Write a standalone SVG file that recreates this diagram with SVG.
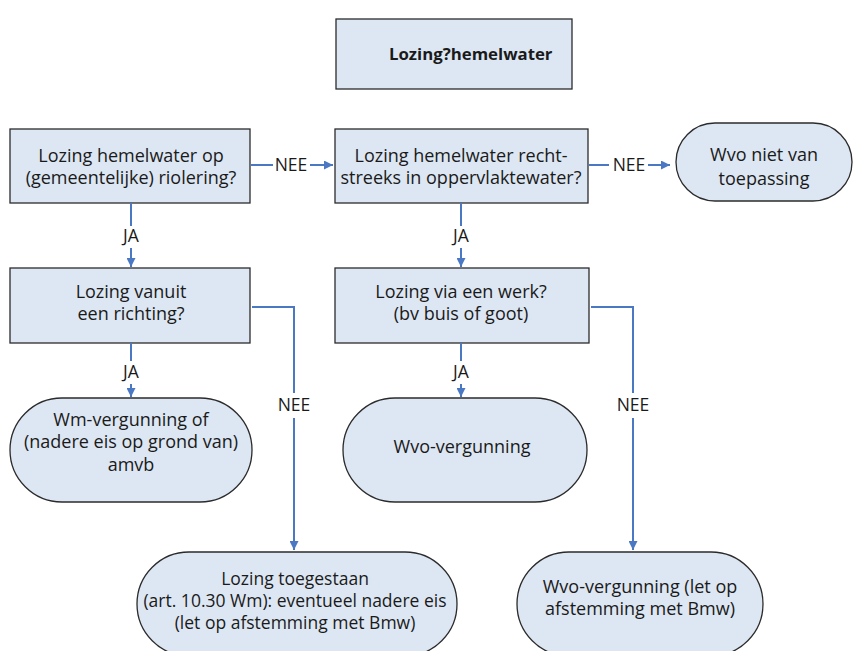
<svg xmlns="http://www.w3.org/2000/svg" width="854" height="651" viewBox="0 0 854 651">
  <style>
    .box { fill: #dde7f3; stroke: #2b2b2b; stroke-width: 1.3; }
    .txt { font-family: "Open Sans", "Liberation Sans", sans-serif; font-size: 18px; fill: #1a1a1a; text-anchor: middle; }
    .small { font-size: 17.5px; }
    .title { font-family: "Open Sans", "Liberation Sans", sans-serif; font-size: 16.8px; font-weight: bold; fill: #1a1a1a; }
    .lbl { font-family: "Open Sans", "Liberation Sans", sans-serif; font-size: 17.5px; fill: #1a1a1a; text-anchor: middle; }
    .con { fill: none; stroke: #4a78c2; stroke-width: 2; }
  </style>
  <defs>
    <marker id="arrow" viewBox="0 0 10 10" refX="10" refY="5" markerWidth="4.5" markerHeight="4.5" orient="auto" markerUnits="strokeWidth">
      <path d="M0,0 L10,5 L0,10 Z" fill="#4a78c2"/>
    </marker>
  </defs>

  <g id="title">
    <rect class="box" x="336" y="19" width="236" height="70"/>
    <text class="title" x="389" y="60">Lozing?hemelwater</text>
  </g>

  <g id="q-riolering">
    <rect class="box" x="10" y="129" width="240" height="74"/>
    <text class="txt" x="131" y="162">Lozing hemelwater op</text>
    <text class="txt" x="131" y="184">(gemeentelijke) riolering?</text>
  </g>

  <g id="q-oppervlaktewater">
    <rect class="box" x="335" y="129" width="253" height="74"/>
    <text class="txt" x="461" y="162">Lozing hemelwater recht-</text>
    <text class="txt" x="461" y="184">streeks in oppervlaktewater?</text>
  </g>

  <g id="t-niet-van-toepassing">
    <rect class="box" x="676" y="123" width="176" height="78" rx="39" ry="39"/>
    <text class="txt" x="764" y="161">Wvo niet van</text>
    <text class="txt" x="764" y="185">toepassing</text>
  </g>

  <g id="q-inrichting">
    <rect class="box" x="10" y="268" width="240" height="75"/>
    <text class="txt" x="131" y="298">Lozing vanuit</text>
    <text class="txt" x="131" y="320">een richting?</text>
  </g>

  <g id="q-werk">
    <rect class="box" x="335" y="268" width="254" height="75"/>
    <text class="txt" x="461" y="298">Lozing via een werk?</text>
    <text class="txt" x="461" y="320">(bv buis of goot)</text>
  </g>

  <g id="t-wm-vergunning">
    <rect class="box" x="10" y="398" width="242" height="104" rx="52" ry="52"/>
    <text class="txt" x="131" y="426">Wm-vergunning of</text>
    <text class="txt" x="131" y="448">(nadere eis op grond van)</text>
    <text class="txt" x="131" y="471">amvb</text>
  </g>

  <g id="t-wvo-vergunning">
    <rect class="box" x="343" y="398" width="244" height="104" rx="52" ry="52"/>
    <text class="txt" x="462" y="453">Wvo-vergunning</text>
  </g>

  <g id="t-lozing-toegestaan">
    <rect class="box" x="137" y="552" width="320" height="104" rx="52" ry="52"/>
    <text class="txt small" x="295" y="585">Lozing toegestaan</text>
    <text class="txt small" x="295" y="607">(art. 10.30 Wm): eventueel nadere eis</text>
    <text class="txt small" x="295" y="629">(let op afstemming met Bmw)</text>
  </g>

  <g id="t-wvo-vergunning-bmw">
    <rect class="box" x="517" y="552" width="246" height="104" rx="52" ry="52"/>
    <text class="txt" x="640" y="593">Wvo-vergunning (let op</text>
    <text class="txt" x="640" y="615">afstemming met Bmw)</text>
  </g>

  <g id="connectors">
    <!-- riolering -> oppervlaktewater (NEE) -->
    <line class="con" x1="251" y1="165" x2="273" y2="165"/>
    <line class="con" x1="310" y1="165" x2="333" y2="165" marker-end="url(#arrow)"/>
    <text class="lbl" x="291" y="171">NEE</text>

    <!-- oppervlaktewater -> niet van toepassing (NEE) -->
    <line class="con" x1="589" y1="165" x2="609" y2="165"/>
    <line class="con" x1="648" y1="165" x2="670" y2="165" marker-end="url(#arrow)"/>
    <text class="lbl" x="629" y="171">NEE</text>

    <!-- riolering -> inrichting (JA) -->
    <line class="con" x1="131" y1="203" x2="131" y2="226"/>
    <line class="con" x1="131" y1="248" x2="131" y2="267" marker-end="url(#arrow)"/>
    <text class="lbl" x="131" y="242">JA</text>

    <!-- oppervlaktewater -> werk (JA) -->
    <line class="con" x1="461" y1="203" x2="461" y2="226"/>
    <line class="con" x1="461" y1="248" x2="461" y2="267" marker-end="url(#arrow)"/>
    <text class="lbl" x="461" y="242">JA</text>

    <!-- inrichting -> Wm-vergunning (JA) -->
    <line class="con" x1="131" y1="343" x2="131" y2="361"/>
    <line class="con" x1="131" y1="384" x2="131" y2="397" marker-end="url(#arrow)"/>
    <text class="lbl" x="131" y="378">JA</text>

    <!-- werk -> Wvo-vergunning (JA) -->
    <line class="con" x1="461" y1="343" x2="461" y2="361"/>
    <line class="con" x1="461" y1="384" x2="461" y2="397" marker-end="url(#arrow)"/>
    <text class="lbl" x="461" y="378">JA</text>

    <!-- inrichting -> lozing toegestaan (NEE) -->
    <polyline class="con" points="252,307 294,307 294,393"/>
    <line class="con" x1="294" y1="418" x2="294" y2="550" marker-end="url(#arrow)"/>
    <text class="lbl" x="294" y="411">NEE</text>

    <!-- werk -> Wvo-vergunning met Bmw (NEE) -->
    <polyline class="con" points="591,307 633,307 633,393"/>
    <line class="con" x1="633" y1="418" x2="633" y2="550" marker-end="url(#arrow)"/>
    <text class="lbl" x="633" y="411">NEE</text>
  </g>
</svg>
